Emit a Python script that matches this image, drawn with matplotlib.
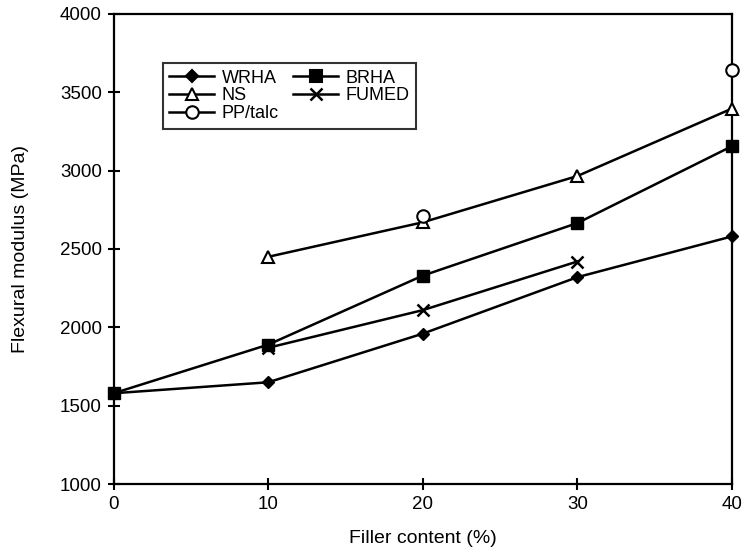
import matplotlib
matplotlib.use("Agg")
import matplotlib.pyplot as plt
from matplotlib.lines import Line2D

plt.rcParams["font.family"] = ["Liberation Sans", "DejaVu Sans"]

# filler content (%) and flexural modulus (MPa)
wrha_x = [0, 10, 20, 30, 40]
wrha_y = [1580, 1650, 1960, 2320, 2580]
brha_x = [0, 10, 20, 30, 40]
brha_y = [1580, 1890, 2330, 2665, 3155]
ns_x = [10, 20, 30, 40]
ns_y = [2450, 2670, 2965, 3395]
fumed_x = [10, 20, 30]
fumed_y = [1870, 2110, 2420]
talc_x = [20, 40]
talc_y = [2710, 3640]

fig = plt.figure(figsize=(7.43, 5.49), dpi=100)
ax = fig.add_axes([0.153, 0.118, 0.832, 0.857])

lw = 1.8
ax.plot(wrha_x, wrha_y, color="black", lw=lw, marker="D", ms=6.5, mfc="black", clip_on=False, zorder=3)
ax.plot(brha_x, brha_y, color="black", lw=lw, marker="s", ms=8, mfc="black", clip_on=False, zorder=3)
ax.plot(ns_x, ns_y, color="black", lw=lw, marker="^", ms=9, mfc="white", mew=1.5, clip_on=False, zorder=3)
ax.plot(fumed_x, fumed_y, color="black", lw=lw, marker="x", ms=9, mew=1.8, clip_on=False, zorder=3)
ax.plot(talc_x, talc_y, color="black", ls="none", marker="o", ms=9, mfc="white", mew=1.5, clip_on=False, zorder=4)

ax.set_xlim(0, 40)
ax.set_ylim(1000, 4000)
ax.set_xticks([0, 10, 20, 30, 40])
ax.set_yticks([1000, 1500, 2000, 2500, 3000, 3500, 4000])
ax.tick_params(direction="inout", length=9, width=1.5, labelsize=13.5, pad=4)
for s in ax.spines.values():
    s.set_linewidth(1.6)

ax.set_xlabel("Filler content (%)", fontsize=14, labelpad=12)
ax.set_ylabel("Flexural modulus (MPa)", fontsize=14, labelpad=22)

def handle(marker, ms, mfc, mew=1.5):
    return Line2D([], [], color="black", lw=lw, marker=marker, ms=ms, mfc=mfc, mew=mew)

handles = [handle("D", 6.5, "black"), handle("^", 9, "white"), handle("o", 9, "white"),
           handle("s", 8, "black"), handle("x", 9, "black", 1.8)]
labels = ["WRHA", "NS", "PP/talc", "BRHA", "FUMED"]
leg = ax.legend(handles, labels, ncol=2, loc="upper left", bbox_to_anchor=(0.065, 0.914),
                fontsize=13, frameon=True, fancybox=False, edgecolor="black",
                handlelength=2.5, handletextpad=0.4, columnspacing=0.8,
                labelspacing=0.05, borderpad=0.35)
leg.get_frame().set_linewidth(1.5)

fig.savefig("out.png", dpi=100)
